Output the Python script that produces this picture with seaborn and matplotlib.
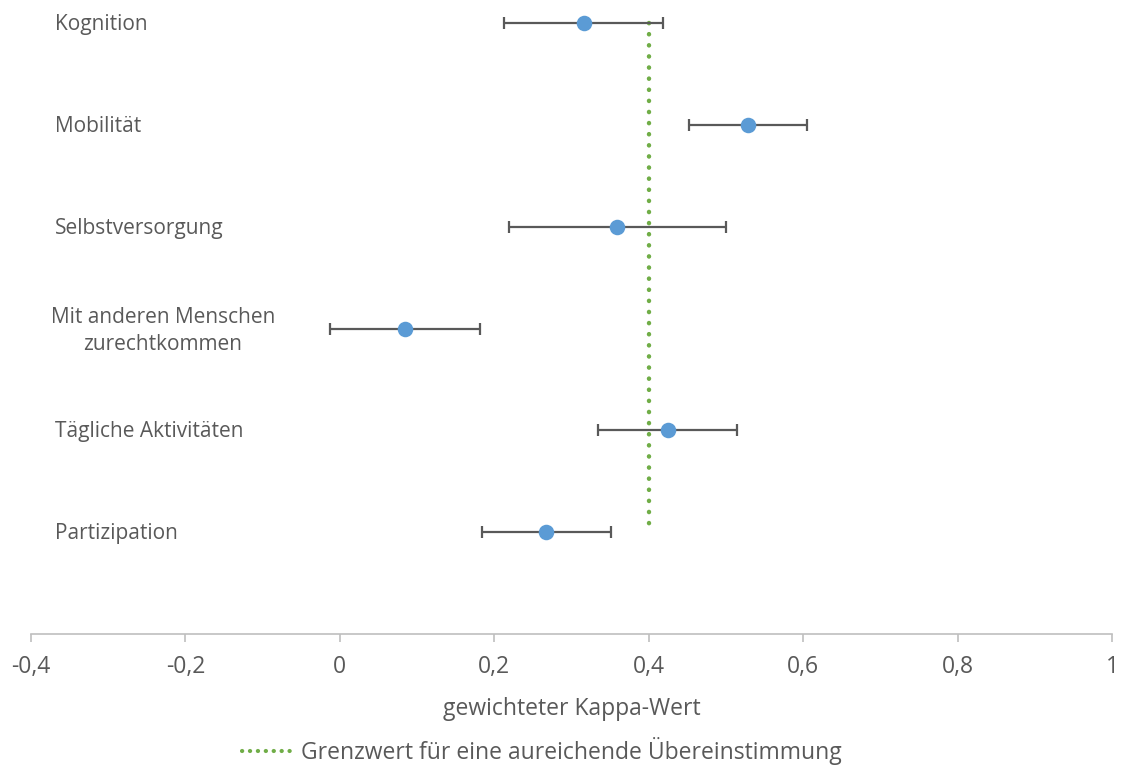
import matplotlib
matplotlib.use("Agg")
import matplotlib.pyplot as plt
import seaborn as sns
import pandas as pd
from matplotlib.lines import Line2D

# ---- data ----
categories = ["Kognition", "Mobilität", "Selbstversorgung",
              "Mit anderen Menschen\nzurechtkommen", "Tägliche Aktivitäten", "Partizipation"]
ypos = [6, 5, 4, 3, 2, 1]
kappa = [0.316, 0.528, 0.359, 0.084, 0.425, 0.267]
ci_low = [0.212, 0.452, 0.219, -0.013, 0.334, 0.184]
ci_high = [0.419, 0.605, 0.500, 0.181, 0.514, 0.351]
threshold_x = [0.4, 0.4]
threshold_y = [6, 1]
xticks = [-0.4, -0.2, 0, 0.2, 0.4, 0.6, 0.8, 1.0]
xticklabels = ["-0,4", "-0,2", "0", "0,2", "0,4", "0,6", "0,8", "1"]
xlabel = "gewichteter Kappa-Wert"
legend_label = "Grenzwert für eine aureichende Übereinstimmung"

df = pd.DataFrame({"cat": categories, "y": ypos, "kappa": kappa,
                   "lo": ci_low, "hi": ci_high})

sns.set_theme(style="white")
plt.rcParams["font.family"] = ["Open Sans", "DejaVu Sans"]
TXT = "#595959"

W, H = 1123, 769
fig = plt.figure(figsize=(W / 100, H / 100), dpi=100)
ax = fig.add_axes([31 / W, 1 - 634 / H, (1112 - 31) / W, 632 / H])

# threshold line
ax.plot(threshold_x, threshold_y, color="#70AD47", lw=3.2,
        linestyle=(0, (0.05, 2.45)), dash_capstyle="round", zorder=2)

# error bars
ax.errorbar(df["kappa"], df["y"],
            xerr=[df["kappa"] - df["lo"], df["hi"] - df["kappa"]],
            fmt="none", ecolor="#595959", elinewidth=1.6, capsize=4.5,
            capthick=1.6, zorder=3)

sns.scatterplot(data=df, x="kappa", y="y", ax=ax, color="#5B9BD5",
                s=125, edgecolor="#5B9BD5", linewidth=0, zorder=4, legend=False)

ax.set_xlim(-0.4, 1.0)
ax.set_ylim(0, 632 / 101.8)

# category labels
for c, y in zip(df["cat"], df["y"]):
    if "\n" in c:
        ax.text(-0.4 + (163 - 31) / 772, y - 0.02, c, ha="center", va="center",
                fontsize=15, color=TXT, linespacing=1.38)
    else:
        ax.text(-0.4 + (55 - 31) / 772, y - 0.015, c, ha="left", va="center",
                fontsize=15, color=TXT)

for s in ["top", "right", "left"]:
    ax.spines[s].set_visible(False)
ax.spines["bottom"].set_color("#BFBFBF")
ax.spines["bottom"].set_linewidth(1.2)
ax.set_yticks([])
ax.set_xticks(xticks)
ax.set_xticklabels(xticklabels)
ax.tick_params(axis="x", direction="out", length=6, width=1.2, color="#BFBFBF",
               labelsize=16.5, labelcolor=TXT, pad=9, bottom=True)
ax.set_xlabel(xlabel, fontsize=16.5, color=TXT, labelpad=13)
ax.set_ylabel("")

handle = Line2D([0], [0], color="#70AD47", lw=3.0, linestyle=(0, (0.05, 1.85)),
                dash_capstyle="round")
fig.legend([handle], [legend_label], loc="center", bbox_to_anchor=(542 / W, 1 - 751 / H),
           frameon=False, fontsize=16.5, labelcolor=TXT, handlelength=2.1,
           handletextpad=0.45)

fig.savefig("out.png", dpi=100, facecolor="white")
